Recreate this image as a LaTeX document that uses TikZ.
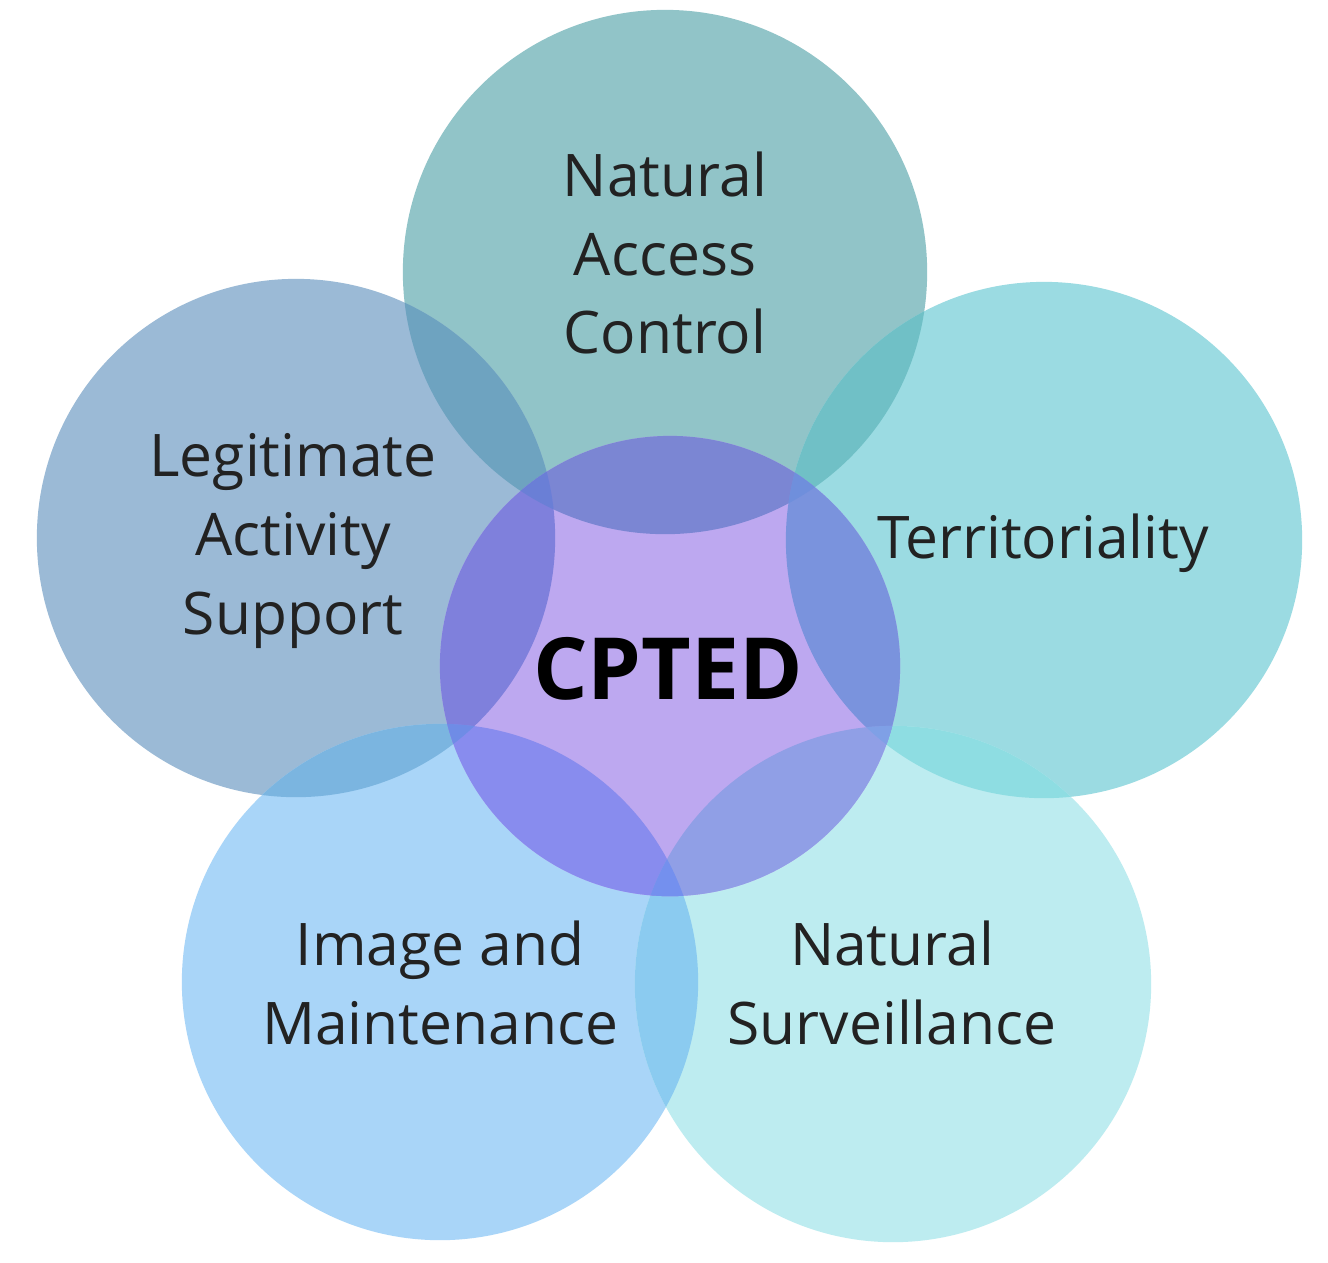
\documentclass[tikz,border=0pt]{standalone}
\usepackage{fontspec}
\setmainfont{Open Sans}
\definecolor{cTop}{HTML}{91C4C8}
\definecolor{cLeft}{HTML}{9BBAD6}
\definecolor{cRight}{HTML}{9BDBE2}
\definecolor{cBL}{HTML}{A9D5F8}
\definecolor{cBR}{HTML}{BDECF0}
\definecolor{cCen}{HTML}{BDA8F0}
\definecolor{cTL}{HTML}{6EA3C0}
\definecolor{cTR}{HTML}{70C0C6}
\definecolor{cLBL}{HTML}{7BB5E0}
\definecolor{cRBR}{HTML}{8EDDE2}
\definecolor{cBLBR}{HTML}{8BCBF0}
\definecolor{cCT}{HTML}{7B86D3}
\definecolor{cCL}{HTML}{7F80DC}
\definecolor{cCR}{HTML}{7A93DD}
\definecolor{cCBL}{HTML}{888CEE}
\definecolor{cCBR}{HTML}{909FE6}
\definecolor{cCTL}{HTML}{6A7FD6}
\definecolor{cCTR}{HTML}{6F8FDC}
\definecolor{cCLBL}{HTML}{6F8CE6}
\definecolor{cCRBR}{HTML}{7FA0E6}
\definecolor{cCBLBR}{HTML}{7490EE}
\definecolor{txt}{HTML}{222222}
\def\cT{(665,272) circle[radius=2.62cm]}
\def\cL{(296,538) circle[radius=2.59cm]}
\def\cR{(1044,540) circle[radius=2.58cm]}
\def\cBL{(440,982) circle[radius=2.58cm]}
\def\cBR{(893,984) circle[radius=2.58cm]}
\def\cC{(670,666) circle[radius=2.30cm]}
\tikzset{
  label/.style={text=txt, align=center, font=\fontsize{16.7}{22.4}\selectfont, inner sep=0pt},
  core/.style={text=black, font=\fontsize{24.4}{29}\selectfont\bfseries, inner sep=0pt}
}
\begin{document}
\begin{tikzpicture}[x=0.01cm,y=-0.01cm]
\useasboundingbox[fill=white] (0,0) rectangle (1328,1262);
% outer circles
\fill[cTop] \cT;
\fill[cLeft] \cL;
\fill[cRight] \cR;
\fill[cBL] \cBL;
\fill[cBR] \cBR;
% outer pairwise overlaps
\begin{scope}\clip \cT; \fill[cTL] \cL; \fill[cTR] \cR; \end{scope}
\begin{scope}\clip \cL; \fill[cLBL] \cBL; \end{scope}
\begin{scope}\clip \cR; \fill[cRBR] \cBR; \end{scope}
\begin{scope}\clip \cBL; \fill[cBLBR] \cBR; \end{scope}
% centre
\fill[cCen] \cC;
\begin{scope}\clip \cC;
  \fill[cCT] \cT; \fill[cCL] \cL; \fill[cCR] \cR; \fill[cCBL] \cBL; \fill[cCBR] \cBR;
  \begin{scope}\clip \cT; \fill[cCTL] \cL; \fill[cCTR] \cR; \end{scope}
  \begin{scope}\clip \cL; \fill[cCLBL] \cBL; \end{scope}
  \begin{scope}\clip \cR; \fill[cCRBR] \cBR; \end{scope}
  \begin{scope}\clip \cBL; \fill[cCBLBR] \cBR; \end{scope}
\end{scope}
% texts
\node[label] (nac) at (665,253) {Natural\\Access\\Control};
\node[label] (las) at (293,541) {Legitimate\\Activity\\Support};
\node[label] (ter) at (1043,543) {Territoriality};
\node[label] (iam) at (440,983) {Image and\\Maintenance};
\node[label] (nsu) at (892,983) {Natural\\Surveillance};
\node[core] (cpted) at (668,669) {CPTED};
\end{tikzpicture}
\end{document}
